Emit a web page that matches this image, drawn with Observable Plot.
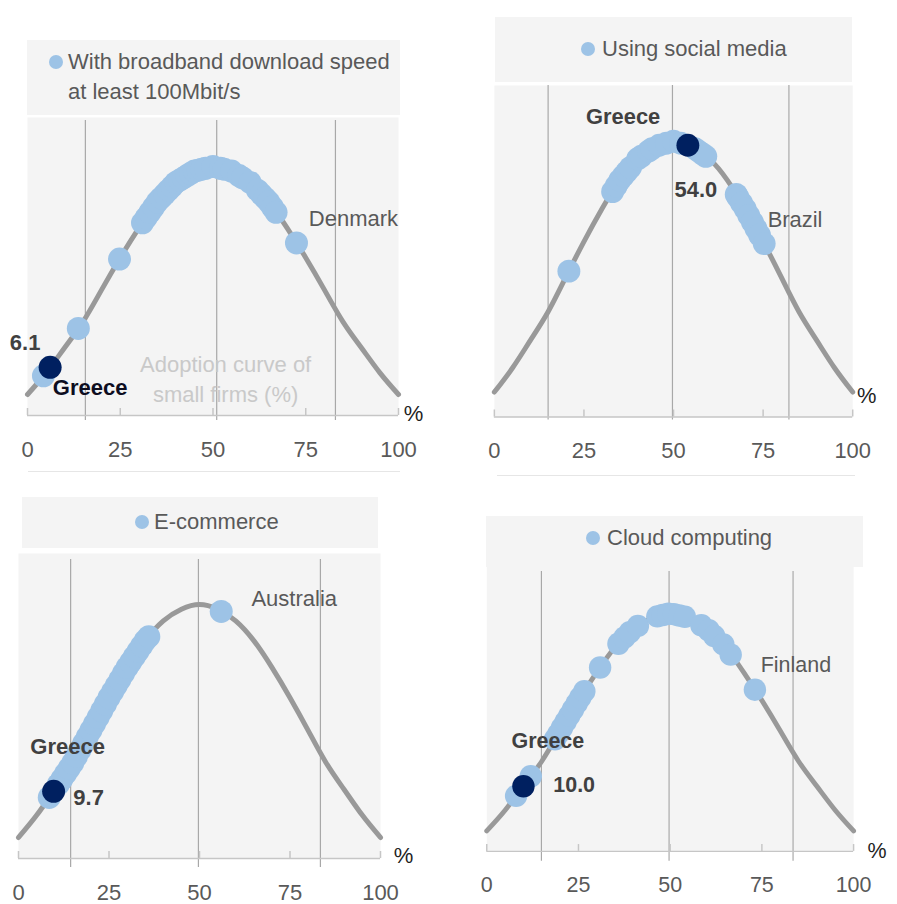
<!DOCTYPE html>
<html>
<head>
<meta charset="utf-8">
<script src="https://cdn.jsdelivr.net/npm/d3@7"></script>
<script src="https://cdn.jsdelivr.net/npm/@observablehq/plot@0.6"></script>
<style>
  html, body { margin: 0; padding: 0; background: #ffffff; }
  body { font-family: "Liberation Sans", Arial, sans-serif; }
  #root { position: relative; width: 897px; height: 904px; overflow: hidden; background: #fff; }
  .legend { position: absolute; background: #f4f4f4; color: #595959; font-size: 22px; }
  .legend .txt { position: absolute; line-height: 30px; white-space: nowrap; }
  .legend .dot { position: absolute; width: 14px; height: 14px; border-radius: 50%; background: #9dc3e6; }
  .panel { position: absolute; }
  .sep { position: absolute; height: 1px; background: #e6e6e6; }
</style>
</head>
<body>
<div id="root"></div>
<script>
// ---------------- data ----------------
const curveX = [0, 5, 10, 15, 20, 25, 30, 35, 40, 45, 50, 55, 60, 65, 70, 75, 80, 85, 90, 95, 100];
const curveY = [0, 9.5, 20.5, 32, 46, 60, 73, 84.5, 93, 98, 100, 98, 93, 84.5, 73, 60, 46, 32, 20.5, 9.5, 0];
const tickValues = [0, 25, 50, 75, 100];

const legendBroadband = ["With broadband download speed", "at least 100Mbit/s"];
const legendSocial = ["Using social media"];
const legendEcommerce = ["E-commerce"];
const legendCloud = ["Cloud computing"];

const broadbandX = [4.3, 13.7, 24.8, 31, 32, 33, 34, 35, 36, 37, 38, 39, 40, 41, 42, 43, 44, 45, 46, 47, 48, 50, 52, 53, 55, 57, 58, 60, 62, 63, 64, 65, 66, 67, 72.5];
const broadbandY = [8.2, 29.0, 59.4, 75.3, 77.6, 79.9, 82.2, 84.5, 86.2, 87.9, 89.6, 91.3, 93, 94, 95, 96, 97, 98, 98.4, 98.8, 99.2, 100, 99.2, 98.8, 98, 96, 95, 93, 89.6, 87.9, 86.2, 84.5, 82.2, 79.9, 66.5];

const socialX = [20.8, 33, 34, 35, 36, 37, 38, 40, 41, 43, 44, 46, 48, 50, 52, 56, 57, 58, 59, 67.5, 68, 69, 70, 71, 72, 73, 74, 75.3];
const socialY = [48.2, 79.9, 82.2, 84.5, 86.2, 87.9, 89.6, 93, 94, 96, 97, 98.4, 99.2, 100, 99.2, 97, 96, 95, 94, 78.8, 77.6, 75.3, 73, 70.4, 67.8, 65.2, 62.6, 59.2];

const ecommerceX = [8.5, 11, 12, 13, 14, 15, 16, 17, 18, 19, 20, 21, 22, 23, 24, 25, 26, 27, 28, 29, 30, 31, 32, 33, 34, 35, 36, 56];
const ecommerceY = [17.2, 22.8, 25.1, 27.4, 29.7, 32, 34.8, 37.6, 40.4, 43.2, 46, 48.8, 51.6, 54.4, 57.2, 60, 62.6, 65.2, 67.8, 70.4, 73, 75.3, 77.6, 79.9, 82.2, 84.5, 86.2, 97];

const cloudX = [8, 12, 18.6, 19.5, 20.5, 21.5, 22.5, 23.5, 24.5, 25.5, 26.6, 30.9, 35.9, 37.5, 39, 41.2, 46.5, 48, 49.5, 51, 52.5, 54, 58.5, 60.5, 62, 64.5, 66.5, 73.1];
const cloudY = [16.1, 25.1, 42.1, 44.6, 47.4, 50.2, 53, 55.8, 58.6, 61.3, 64.2, 75.1, 86, 88.8, 91.3, 94.2, 98.6, 99.2, 99.8, 99.6, 99, 98.4, 94.5, 92.2, 89.6, 85.7, 81, 64.9];

const greeceX = [6.1, 54.0, 9.7, 10.0];
const greeceY = [11.9, 98.4, 19.8, 20.5];
const topCountries = ["Denmark", "Brazil", "Australia", "Finland"];

const guidesBroadband = [15.6, 51, 83];
const guidesSocial = [15, 49.7, 82.2];
const guidesEcommerce = [14.4, 49.7, 83.4];
const guidesCloud = [14.9, 49.7, 83.5];

const noteText = "Adoption curve of\nsmall firms (%)";

// ---------------- layout (pixels) ----------------
const layout = [
  {box: [27, 40, 373, 75], dot: [56, 62], textLeft: 68, lineMid: [62, 92],
   x0: 27, x100: 398, bgTop: 117, axisY: 415, h0: 394, h100: 166, inset: [3, -5],
   valueD: [-25, -24], nameD: [40, 21], countryD: [57, -24], pct: [15, -2], nameColor: "#0d0d1f", note: [53.4, 7.5]},
  {box: [495, 17, 357, 65], dot: [588, 49], textLeft: 602, lineMid: [49],
   x0: 494, x100: 854, bgTop: 85, axisY: 418, h0: 393, h100: 141, inset: [0, -3],
   valueD: [8, 45], nameD: [-65, -28], countryD: [31, -24], pct: [14, -21], nameColor: "#404040"},
  {box: [22, 497, 356, 51], dot: [142, 522], textLeft: 154, lineMid: [522],
   x0: 18, x100: 380, bgTop: 553, axisY: 858, h0: 837, h100: 604, inset: [6, -9],
   valueD: [35, 7], nameD: [14, -44], countryD: [73, -13], pct: [23, -3], nameColor: "#404040"},
  {box: [486, 516, 377, 51], dot: [593, 538], textLeft: 607, lineMid: [538],
   x0: 487, x100: 863, bgTop: 566, axisY: 858, h0: 837, h100: 614, inset: [5, -10],
   valueD: [52, -1], nameD: [25, -46], countryD: [42, -25], pct: [24, 0], nameColor: "#404040"}
];

const series = [
  {legend: legendBroadband, xs: broadbandX, ys: broadbandY, guides: guidesBroadband},
  {legend: legendSocial, xs: socialX, ys: socialY, guides: guidesSocial},
  {legend: legendEcommerce, xs: ecommerceX, ys: ecommerceY, guides: guidesEcommerce},
  {legend: legendCloud, xs: cloudX, ys: cloudY, guides: guidesCloud}
];

const FONT = '"Liberation Sans", Arial, sans-serif';
const root = document.getElementById("root");

// separators between the rows
[[28, 471, 372], [497, 475, 358]].forEach(([l, t, w]) => {
  const s = document.createElement("div");
  s.className = "sep";
  s.style.left = l + "px"; s.style.top = t + "px"; s.style.width = w + "px";
  root.appendChild(s);
});

series.forEach((S, i) => {
  const L = layout[i];

  // legend box
  const box = document.createElement("div");
  box.className = "legend";
  box.style.left = L.box[0] + "px"; box.style.top = L.box[1] + "px";
  box.style.width = L.box[2] + "px"; box.style.height = L.box[3] + "px";
  const dot = document.createElement("div");
  dot.className = "dot";
  dot.style.left = (L.dot[0] - 7 - L.box[0]) + "px";
  dot.style.top = (L.dot[1] - 7 - L.box[1]) + "px";
  box.appendChild(dot);
  S.legend.forEach((line, j) => {
    const t = document.createElement("div");
    t.className = "txt";
    t.textContent = line;
    t.style.left = (L.textLeft - L.box[0]) + "px";
    t.style.top = (L.lineMid[j] - 15 - L.box[1]) + "px";
    box.appendChild(t);
  });
  root.appendChild(box);

  // chart
  const k = (L.h0 - L.h100) / 100;
  const yLo = -(L.axisY - L.h0) / k;
  const yHi = 100 + (L.h100 - L.bgTop) / k;
  const mL = 30, mR = 45, mB = 50;
  const w = (L.x100 - L.x0) + mL + mR;
  const h = (L.axisY - L.bgTop) + mB;
  const gx = greeceX[i], gy = greeceY[i];
  const lastX = S.xs[S.xs.length - 1], lastY = S.ys[S.ys.length - 1];

  const marks = [
    Plot.frame({fill: "#f4f4f4", stroke: "none"}),
    Plot.ruleX(S.guides, {stroke: "#a8a8a8", strokeWidth: 1.2, insetTop: L.inset[0], insetBottom: L.inset[1]}),
    Plot.ruleY([yLo], {stroke: "#c6c6c6", strokeWidth: 1.5}),
    Plot.ruleX(tickValues, {y1: yLo, y2: yLo + 7 / k, stroke: "#c6c6c6", strokeWidth: 1.5}),
    Plot.axisX(tickValues, {tickSize: 0, tickPadding: 26, fontSize: 22, label: null}),
    Plot.line(curveX, {x: curveX, y: curveY, stroke: "#999999", strokeWidth: 5, curve: "natural"}),
    Plot.dot(S.xs, {x: S.xs, y: S.ys, r: 11.5, fill: "#9dc3e6"}),
    Plot.dot([gx], {x: [gx], y: [gy], r: 11.5, fill: "#002060"}),
    Plot.text([gx], {x: [gx], y: [gy], text: [d3.format(".1f")(gx)], dx: L.valueD[0], dy: L.valueD[1],
      fontWeight: "bold", fontSize: 22, fill: "#404040"}),
    Plot.text(["Greece"], {x: [gx], y: [gy], text: ["Greece"], dx: L.nameD[0], dy: L.nameD[1],
      fontWeight: "bold", fontSize: 22, fill: L.nameColor}),
    Plot.text([topCountries[i]], {x: [lastX], y: [lastY], text: [topCountries[i]], dx: L.countryD[0], dy: L.countryD[1],
      fontSize: 22, fill: "#595959"}),
    Plot.text(["%"], {x: [100], y: [yLo], text: ["%"], dx: L.pct[0], dy: L.pct[1], fontSize: 22, fill: "#1f1f1f"})
  ];
  if (L.note) {
    marks.push(Plot.text([noteText], {x: [L.note[0]], y: [L.note[1]], text: [noteText], fontSize: 22,
      fill: "#c9c9c9", lineHeight: 1.36}));
  }

  const chart = Plot.plot({
    width: w, height: h,
    marginLeft: mL, marginRight: mR, marginTop: 0, marginBottom: mB,
    x: {domain: [0, 100]},
    y: {domain: [yLo, yHi], axis: null},
    style: {background: "transparent", fontFamily: FONT, fontSize: "22px", color: "#595959", overflow: "visible"},
    marks
  });
  const wrap = document.createElement("div");
  wrap.className = "panel";
  wrap.style.left = (L.x0 - mL) + "px";
  wrap.style.top = L.bgTop + "px";
  wrap.appendChild(chart);
  root.appendChild(wrap);
});
</script>
</body>
</html>
